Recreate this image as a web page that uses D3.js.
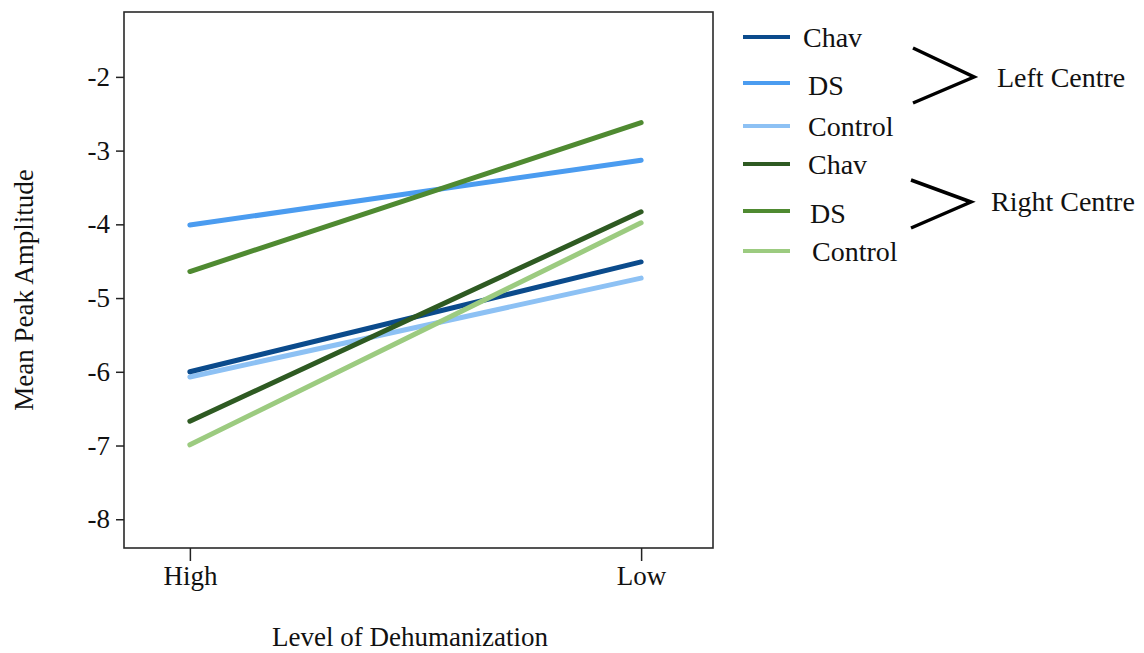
<!DOCTYPE html>
<html><head><meta charset="utf-8">
<script src="https://cdn.jsdelivr.net/npm/d3@7"></script>
<style>body{margin:0;background:#fff}svg{display:block}text{font-family:"Liberation Serif","Times New Roman",serif;fill:#111}</style>
</head><body><svg id="c" width="1144" height="653"></svg>
<script>
const categories = ["High", "Low"];
const yTicks = [-2, -3, -4, -5, -6, -7, -8];
const seriesNames = ["Chav", "DS", "Control", "Chav", "DS", "Control"];
const seriesGroups = ["Left Centre", "Left Centre", "Left Centre", "Right Centre", "Right Centre", "Right Centre"];
const leftChav = [-6.0, -4.51];
const leftDS = [-4.01, -3.13];
const leftControl = [-6.07, -4.73];
const rightChav = [-6.67, -3.83];
const rightDS = [-4.64, -2.62];
const rightControl = [-6.99, -3.98];
const colors = ["#0b4b8c", "#4b9cf0", "#8dc1f4", "#2e5a22", "#4f8a31", "#9ccb80"];
const groupLabels = ["Left Centre", "Right Centre"];

const allSeries = [leftChav, leftDS, leftControl, rightChav, rightDS, rightControl];

const svg = d3.select("#c");
const L = 124, R = 713, T = 12, B = 548;
const x = d3.scalePoint().domain(categories).range([L, R - 6]).padding(0.146);
const y = d3.scaleLinear().domain([-1.12, -8.39]).range([T, B]);

const line = d3.line().x((d, i) => x(categories[i])).y(d => y(d));
const order = [2, 0, 1, 5, 3, 4];
order.forEach(i => {
  svg.append("path").attr("d", line(allSeries[i])).attr("fill", "none")
    .attr("stroke", colors[i]).attr("stroke-width", 5).attr("stroke-linecap", "round");
});

svg.append("rect").attr("x", L).attr("y", T).attr("width", R - L).attr("height", B - T)
  .attr("fill", "none").attr("stroke", "#2a2a2a").attr("stroke-width", 1.6);

const ya = svg.append("g").attr("transform", `translate(${L},0)`)
  .call(d3.axisLeft(y).tickValues(yTicks).tickSize(8).tickPadding(6).tickFormat(d => String(d)));
ya.select(".domain").remove();
ya.selectAll("line").attr("stroke", "#222").attr("stroke-width", 1.5);
ya.selectAll("text").style("font-size", "27px").style("font-family", "Liberation Serif").attr("fill", "#111");

const xa = svg.append("g").attr("transform", `translate(0,${B})`)
  .call(d3.axisBottom(x).tickSize(13).tickPadding(5));
xa.select(".domain").remove();
xa.selectAll("line").attr("stroke", "#222").attr("stroke-width", 1.5);
xa.selectAll("text").style("font-size", "27px").style("font-family", "Liberation Serif").attr("fill", "#111");

svg.append("text").attr("x", 410).attr("y", 646).attr("text-anchor", "middle")
  .style("font-size", "27px").text("Level of Dehumanization");
svg.append("text").attr("transform", "translate(33,290) rotate(-90)").attr("text-anchor", "middle")
  .style("font-size", "27px").text("Mean Peak Amplitude");

const legY = [37, 83, 126, 164, 211, 251];
const legTX = [803, 808, 808, 808, 810, 812];
seriesNames.forEach((n, i) => {
  svg.append("line").attr("x1", 743).attr("x2", 790).attr("y1", legY[i]).attr("y2", legY[i])
    .attr("stroke", colors[i]).attr("stroke-width", 4);
  svg.append("text").attr("x", legTX[i]).attr("y", legY[i] + (i === 1 || i === 4 ? 2 : 0)).attr("dy", "0.35em")
    .style("font-size", "28px").text(n);
});
const brk = [[[913, 48], [974, 77], [913, 103]], [[911, 180], [971, 202], [911, 228]]];
brk.forEach(p => {
  svg.append("path").attr("d", d3.line()(p)).attr("fill", "none").attr("stroke", "#000").attr("stroke-width", 3.5);
});
svg.append("text").attr("x", 997).attr("y", 77).attr("dy", "0.35em").style("font-size", "28px").text(groupLabels[0]);
svg.append("text").attr("x", 991).attr("y", 201).attr("dy", "0.35em").style("font-size", "28px").text(groupLabels[1]);
</script></body></html>
